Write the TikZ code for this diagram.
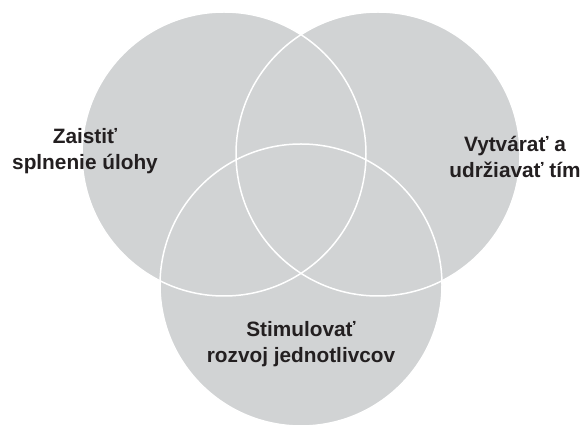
\documentclass[tikz,border=0pt]{standalone}
\usepackage{fontspec}
\setmainfont{Liberation Sans}
\definecolor{circfill}{RGB}{209,211,212}
\definecolor{txt}{RGB}{35,31,32}
\begin{document}
\begin{tikzpicture}[x=1pt,y=-1pt,
  venn/.style={fill=circfill},
  vennline/.style={draw=white,line width=1.5pt},
  lbl/.style={align=center,text=txt,inner sep=0pt,
    font=\fontsize{20.8}{26}\selectfont\bfseries}]
\useasboundingbox (0,0) rectangle (587,427);
\coordinate (cA) at (224,154);
\coordinate (cB) at (378,154);
\coordinate (cC) at (301,285);
\fill[venn] (cA) circle[radius=142];
\fill[venn] (cB) circle[radius=142];
\fill[venn] (cC) circle[radius=141];
\draw[vennline] (cA) circle[radius=142];
\draw[vennline] (cB) circle[radius=142];
\draw[vennline] (cC) circle[radius=141];
\node[lbl] (tA) at (85,151) {Zaistiť\\splnenie úlohy};
\node[lbl] (tB) at (515,157) {Vytvárať a\\udržiavať tím};
\node[lbl] (tC) at (301,344) {Stimulovať\\rozvoj jednotlivcov};
\end{tikzpicture}
\end{document}
